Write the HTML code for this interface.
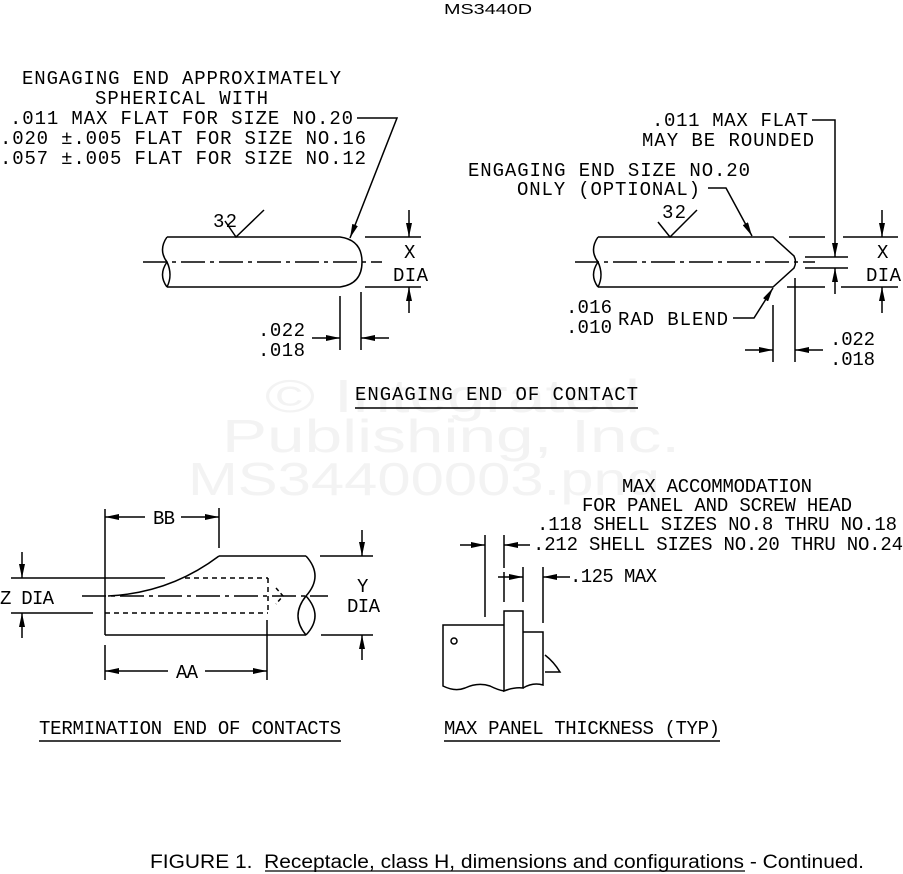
<!DOCTYPE html>
<html><head><meta charset="utf-8"><style>
html,body{margin:0;padding:0;background:#fff;}
svg{display:block;}
.t{font-family:"Liberation Mono",monospace;font-size:19px;fill:#000;}
.w{font-family:"Liberation Sans",sans-serif;font-size:46px;fill:#f3f3f3;}
line,path,polyline,circle{stroke:#000;stroke-width:1.5;fill:none;}
</style></head><body>
<svg width="903" height="874" viewBox="0 0 903 874" xmlns="http://www.w3.org/2000/svg">
<defs>
<marker id="a" viewBox="0 0 14 6" refX="14" refY="3" markerWidth="14" markerHeight="6" markerUnits="userSpaceOnUse" orient="auto"><path d="M0,0 L14,3 L0,6 Z" style="fill:#000;stroke:none"/></marker>
</defs>
<text class="w" x="265" y="412" textLength="375" lengthAdjust="spacingAndGlyphs">© Integrated</text>
<text class="w" x="222" y="452" textLength="458" lengthAdjust="spacingAndGlyphs">Publishing, Inc.</text>
<text class="w" x="188" y="495" textLength="472" lengthAdjust="spacingAndGlyphs">MS34400003.png</text>

<text x="444" y="14" style="font-family:'Liberation Sans',sans-serif;font-size:15px" textLength="88" lengthAdjust="spacingAndGlyphs">MS3440D</text>

<text class="t" x="22" y="84" textLength="319" lengthAdjust="spacing">ENGAGING END APPROXIMATELY</text>
<text class="t" x="95" y="104" textLength="173" lengthAdjust="spacing">SPHERICAL WITH</text>
<text class="t" x="10" y="124" textLength="343" lengthAdjust="spacing">.011 MAX FLAT FOR SIZE NO.20</text>
<text class="t" x="0" y="144" textLength="366" lengthAdjust="spacing">.020 ±.005 FLAT FOR SIZE NO.16</text>
<text class="t" x="0" y="164" textLength="366" lengthAdjust="spacing">.057 ±.005 FLAT FOR SIZE NO.12</text>
<polyline points="357,118 397,118 350,238" marker-end="url(#a)"/>

<path d="M167,237 L340,237 Q362,240 362,262 Q362,284 340,287 L167,287"/>
<path d="M167,237 Q158,250 167,262 Q158,275 167,287"/>
<path d="M167,262 Q173,275 167,287"/>
<line x1="143" y1="262" x2="382" y2="262" stroke-dasharray="24,5,4,5"/>
<text class="t" x="213" y="227" textLength="24" lengthAdjust="spacing">32</text>
<polyline points="225,221 236,237 264,210"/>
<line x1="365" y1="237" x2="421" y2="237"/>
<line x1="365" y1="287" x2="421" y2="287"/>
<line x1="409" y1="210" x2="409" y2="237" marker-end="url(#a)"/>
<line x1="409" y1="313" x2="409" y2="287" marker-end="url(#a)"/>
<text class="t" x="404" y="258">X</text>
<text class="t" x="393" y="281" textLength="35" lengthAdjust="spacing">DIA</text>
<line x1="340" y1="296" x2="340" y2="350"/>
<line x1="361" y1="292" x2="361" y2="350"/>
<line x1="312" y1="338" x2="340" y2="338" marker-end="url(#a)"/>
<line x1="389" y1="338" x2="361" y2="338" marker-end="url(#a)"/>
<text class="t" x="258" y="336" textLength="47" lengthAdjust="spacing">.022</text>
<text class="t" x="258" y="356" textLength="47" lengthAdjust="spacing">.018</text>

<text class="t" x="652" y="126" textLength="156" lengthAdjust="spacing">.011 MAX FLAT</text>
<text class="t" x="642" y="146" textLength="172" lengthAdjust="spacing">MAY BE ROUNDED</text>
<text class="t" x="468" y="176" textLength="282" lengthAdjust="spacing">ENGAGING END SIZE NO.20</text>
<text class="t" x="517" y="195" textLength="183" lengthAdjust="spacing">ONLY (OPTIONAL)</text>
<polyline points="708,188 726,188 752,236" marker-end="url(#a)"/>
<polyline points="812,120 835,120 835,257" marker-end="url(#a)"/>
<line x1="835" y1="294" x2="835" y2="268" marker-end="url(#a)"/>
<path d="M598,237 L773,237 L794,256 Q797,262 794,268 L773,287 L598,287"/>
<path d="M598,237 Q589,250 598,262 Q589,275 598,287"/>
<path d="M598,262 Q604,275 598,287"/>
<line x1="575" y1="262" x2="815" y2="262" stroke-dasharray="24,5,4,5"/>
<text class="t" x="662" y="218" textLength="24" lengthAdjust="spacing">32</text>
<polyline points="658,222 670,237 697,210"/>
<line x1="789" y1="237" x2="825" y2="237"/><line x1="843" y1="237" x2="898" y2="237"/>
<line x1="787" y1="287" x2="825" y2="287"/><line x1="841" y1="287" x2="898" y2="287"/>
<line x1="805" y1="257" x2="848" y2="257"/><line x1="805" y1="268" x2="848" y2="268"/>
<line x1="882" y1="210" x2="882" y2="237" marker-end="url(#a)"/>
<line x1="882" y1="313" x2="882" y2="287" marker-end="url(#a)"/>
<text class="t" x="877" y="258">X</text>
<text class="t" x="866" y="281" textLength="35" lengthAdjust="spacing">DIA</text>
<text class="t" x="566" y="313" textLength="46" lengthAdjust="spacing">.016</text>
<text class="t" x="566" y="333" textLength="46" lengthAdjust="spacing">.010</text>
<text class="t" x="618" y="325" textLength="110" lengthAdjust="spacing">RAD BLEND</text>
<polyline points="733,318 754,318 773,288" marker-end="url(#a)"/>
<line x1="773" y1="305" x2="773" y2="362"/>
<line x1="795" y1="278" x2="795" y2="362"/>
<line x1="745" y1="350" x2="773" y2="350" marker-end="url(#a)"/>
<line x1="823" y1="350" x2="795" y2="350" marker-end="url(#a)"/>
<text class="t" x="830" y="345" textLength="45" lengthAdjust="spacing">.022</text>
<text class="t" x="830" y="365" textLength="45" lengthAdjust="spacing">.018</text>

<text class="t" x="355" y="400" textLength="283" lengthAdjust="spacing">ENGAGING END OF CONTACT</text>
<line x1="355" y1="408" x2="638" y2="408"/>

<line x1="105" y1="509" x2="105" y2="635"/>
<line x1="219" y1="508" x2="219" y2="548"/>
<line x1="145" y1="517" x2="105" y2="517" marker-end="url(#a)"/>
<line x1="181" y1="517" x2="219" y2="517" marker-end="url(#a)"/>
<text class="t" x="153" y="524" textLength="22" lengthAdjust="spacing">BB</text>
<path d="M219,556 L306,556"/>
<path d="M219,556 Q170,593 108,596"/>
<line x1="105" y1="635" x2="306" y2="635"/>
<path d="M306,556 Q324,576 306,596 Q324,616 306,635"/>
<path d="M306,596 Q290,616 306,635"/>
<line x1="82" y1="596" x2="328" y2="596" stroke-dasharray="24,5,4,5"/>
<line x1="185" y1="578" x2="268" y2="578" stroke-dasharray="5,4"/>
<line x1="105" y1="613" x2="268" y2="613" stroke-dasharray="5,4"/>
<line x1="268" y1="578" x2="268" y2="613" stroke-dasharray="5,4"/>
<polyline points="276,588 283,596 276,604" stroke-dasharray="4,3"/>
<line x1="11" y1="578" x2="165" y2="578"/>
<line x1="11" y1="613" x2="93" y2="613"/>
<line x1="22" y1="552" x2="22" y2="578" marker-end="url(#a)"/>
<line x1="22" y1="638" x2="22" y2="613" marker-end="url(#a)"/>
<text class="t" x="0" y="604" textLength="54" lengthAdjust="spacing">Z DIA</text>
<line x1="320" y1="556" x2="373" y2="556"/>
<line x1="321" y1="635" x2="373" y2="635"/>
<line x1="362" y1="530" x2="362" y2="556" marker-end="url(#a)"/>
<line x1="362" y1="660" x2="362" y2="635" marker-end="url(#a)"/>
<text class="t" x="357" y="592">Y</text>
<text class="t" x="347" y="612" textLength="33" lengthAdjust="spacing">DIA</text>
<line x1="105" y1="645" x2="105" y2="680"/>
<line x1="267" y1="620" x2="267" y2="680"/>
<line x1="168" y1="671" x2="105" y2="671" marker-end="url(#a)"/>
<line x1="205" y1="671" x2="267" y2="671" marker-end="url(#a)"/>
<text class="t" x="176" y="678" textLength="22" lengthAdjust="spacing">AA</text>
<text class="t" x="39" y="734" textLength="302" lengthAdjust="spacing">TERMINATION END OF CONTACTS</text>
<line x1="39" y1="741" x2="341" y2="741"/>

<text class="t" x="622" y="492" textLength="190" lengthAdjust="spacing">MAX ACCOMMODATION</text>
<text class="t" x="582" y="511" textLength="270" lengthAdjust="spacing">FOR PANEL AND SCREW HEAD</text>
<text class="t" x="537" y="530" textLength="360" lengthAdjust="spacing">.118 SHELL SIZES NO.8 THRU NO.18</text>
<text class="t" x="533" y="550" textLength="370" lengthAdjust="spacing">.212 SHELL SIZES NO.20 THRU NO.24</text>
<text class="t" x="570" y="582" textLength="87" lengthAdjust="spacing">.125 MAX</text>
<line x1="485" y1="535" x2="485" y2="617"/>
<line x1="504" y1="535" x2="504" y2="568"/>
<line x1="504" y1="572" x2="504" y2="602"/>
<line x1="523" y1="567" x2="523" y2="602"/>
<line x1="543" y1="567" x2="543" y2="623"/>
<line x1="460" y1="545" x2="485" y2="545" marker-end="url(#a)"/>
<line x1="530" y1="545" x2="504" y2="545" marker-end="url(#a)"/>
<line x1="498" y1="577" x2="523" y2="577" marker-end="url(#a)"/>
<line x1="570" y1="577" x2="543" y2="577" marker-end="url(#a)"/>
<path d="M504,625 L443,625 L443,686 Q455,692 465,688 Q478,682 490,686 Q498,690 504,691"/>
<path d="M504,611 L523,611 L523,688 Q514,687 504,691 Z"/>
<path d="M523,632 L543,632 L543,685 Q533,682 523,688"/>
<path d="M545,655 Q554,662 560,672 L545,672"/>
<circle cx="454" cy="641" r="3"/>
<text class="t" x="444" y="734" textLength="276" lengthAdjust="spacing">MAX PANEL THICKNESS (TYP)</text>
<line x1="444" y1="741" x2="720" y2="741"/>

<text x="150" y="868" xml:space="preserve" style="font-family:'Liberation Sans',sans-serif;font-size:19px" textLength="714" lengthAdjust="spacingAndGlyphs">FIGURE 1.&#160; Receptacle, class H, dimensions and configurations - Continued.</text>
<line x1="265" y1="871" x2="745" y2="871" style="stroke-width:1.2"/>
</svg>
</body></html>
